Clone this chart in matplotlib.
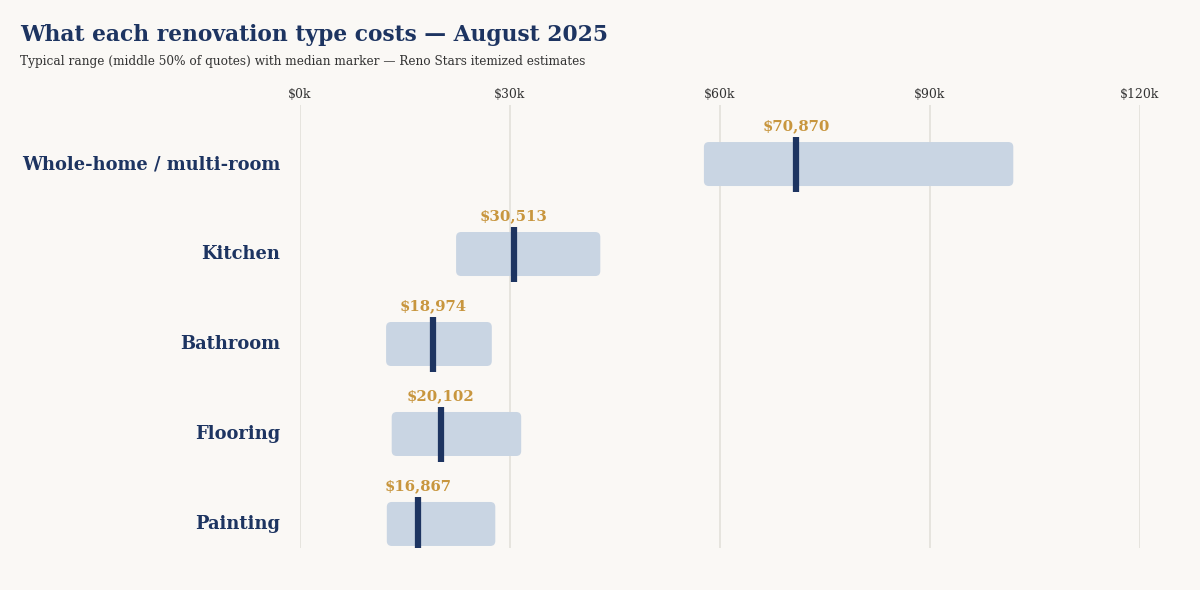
import matplotlib
matplotlib.use("Agg")
import matplotlib.pyplot as plt
from matplotlib.patches import FancyBboxPatch

# data (US$)
categories = ["Whole-home / multi-room", "Kitchen", "Bathroom", "Flooring", "Painting"]
q1 = [57700, 22300, 12300, 13100, 12400]
q3 = [101900, 42900, 27400, 31600, 27900]
medians = [70870, 30513, 18974, 20102, 16867]
ticks = [0, 30000, 60000, 90000, 120000]
tick_labels = ["$0k", "$30k", "$60k", "$90k", "$120k"]

bg = "#faf8f5"
navy = "#1d3461"
bar_col = "#c9d5e3"
gold = "#c8963e"
serif = ["DejaVu Serif"]

fig = plt.figure(figsize=(12, 5.9), dpi=100, facecolor=bg)
ax = fig.add_axes([0.25, 1 - 548 / 590, 0.70, (548 - 105) / 590])
ax.set_facecolor(bg)
ax.set_xlim(0, 120000)
ax.set_ylim(4.267, -0.656)

for t in ticks:
    ax.axvline(t, color="#e3e0da", lw=1.2, zorder=0)

px_x = 120000 / 840.0
px_y = 1 / 90.0
h = 44 * px_y
for i, cat in enumerate(categories):
    box = FancyBboxPatch((q1[i], i - h / 2), q3[i] - q1[i], h,
                         boxstyle="round,pad=0,rounding_size=%f" % (5 * px_x),
                         mutation_aspect=px_y / px_x,
                         fc=bar_col, ec="none", zorder=2)
    ax.add_patch(box)
    ax.plot([medians[i], medians[i]], [i - 27 * px_y, i + 28 * px_y],
            color=navy, lw=4.5, solid_capstyle="butt", zorder=3)
    ax.text(medians[i], i - 38 * px_y, "${:,}".format(medians[i]), ha="center", va="center",
            color=gold, fontsize=10.7, fontweight="bold", family=serif, zorder=4)
    ax.text(-20 * px_x, i, cat, ha="right", va="center", color=navy,
            fontsize=12.9, fontweight="bold", family=serif)

ax.xaxis.tick_top()
ax.set_xticks(ticks)
ax.set_xticklabels(tick_labels, family=serif, fontsize=8.9, color="#333333")
ax.tick_params(axis="x", length=0, pad=3)
ax.set_yticks([])
for s in ax.spines.values():
    s.set_visible(False)

fig.text(20 / 1200, 1 - 35 / 590, "What each renovation type costs \u2014 August 2025",
         ha="left", va="center", fontsize=15.7, fontweight="bold", color=navy, family=serif)
fig.text(20 / 1200, 1 - 61 / 590,
         "Typical range (middle 50% of quotes) with median marker \u2014 Reno Stars itemized estimates",
         ha="left", va="center", fontsize=8.7, color="#333333", family=serif)

fig.savefig("out.png", dpi=100, facecolor=bg)
